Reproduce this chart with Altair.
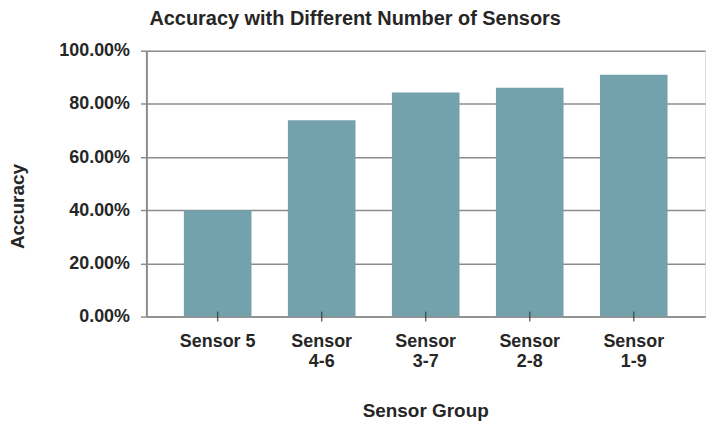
import altair as alt
import pandas as pd

categories = ["Sensor 5", "Sensor 4-6", "Sensor 3-7", "Sensor 2-8", "Sensor 1-9"]
accuracy = [0.400, 0.738, 0.843, 0.861, 0.910]
y_ticks = [0.0, 0.2, 0.4, 0.6, 0.8, 1.0]

df = pd.DataFrame({"group": categories, "acc": accuracy, "zero": [0.0] * len(categories)})

FONT = "Liberation Sans"
BAR = "#73A2AC"
GRID = "#8c8c8c"
TEXT = "#262626"

x_enc = alt.X(
    "group:N",
    sort=categories,
    scale=alt.Scale(paddingInner=0.35, paddingOuter=0.36),
    axis=alt.Axis(
        title="Sensor Group",
        labelExpr="datum.label == 'Sensor 5' ? datum.label : split(datum.label, ' ')",
        labelAngle=0,
        labelFont=FONT,
        labelFontSize=18,
        labelFontWeight="bold",
        labelColor=TEXT,
        labelLineHeight=20,
        labelPadding=16,
        ticks=False,
        tickSize=0,
        domainColor=GRID,
        domainWidth=1.5,
        titleFont=FONT,
        titleFontSize=19,
        titleFontWeight="bold",
        titleColor=TEXT,
        titleX=280,
        titleY=100,
        titleAlign="center",
        titleBaseline="alphabetic",
    ),
)

bars = alt.Chart(df).mark_bar(color=BAR).encode(
    x=x_enc,
    y=alt.Y(
        "acc:Q",
        scale=alt.Scale(domain=[0, 1], nice=False),
        axis=alt.Axis(
            title="Accuracy",
            values=y_ticks,
            format=".2%",
            labelFont=FONT,
            labelFontSize=18,
            labelFontWeight="bold",
            labelColor=TEXT,
            labelPadding=11,
            tickSize=6,
            tickColor=GRID,
            tickWidth=1.5,
            domainColor=GRID,
            domainWidth=2,
            grid=True,
            gridColor=GRID,
            gridWidth=1.5,
            titleFont=FONT,
            titleFontSize=19,
            titleFontWeight="bold",
            titleColor=TEXT,
            titleAngle=270,
            titleX=-123,
            titleY=156,
            titleAlign="center",
            titleBaseline="alphabetic",
        ),
    ),
)

ticks = alt.Chart(df).mark_tick(orient="vertical", size=10, thickness=1.5, color="#333333").encode(
    x=alt.X("group:N", sort=categories),
    y=alt.Y("zero:Q"),
)

chart = (
    alt.layer(bars, ticks)
    .properties(
        width=561,
        height=267,
        title=alt.TitleParams(
            "Accuracy with Different Number of Sensors",
            anchor="start",
            frame="group",
            font=FONT,
            fontSize=20,
            fontWeight="bold",
            color=TEXT,
            baseline="alphabetic",
            offset=0,
            dx=3,
            dy=3,
        ),
        autosize=alt.AutoSizeParams(type="none"),
        padding={"left": 139, "top": 42, "right": 5, "bottom": 110},
    )
    .configure_view(stroke=None)
    .configure(background="white")
)

chart.save("out.html", embed_options={"renderer": "svg", "actions": False})
